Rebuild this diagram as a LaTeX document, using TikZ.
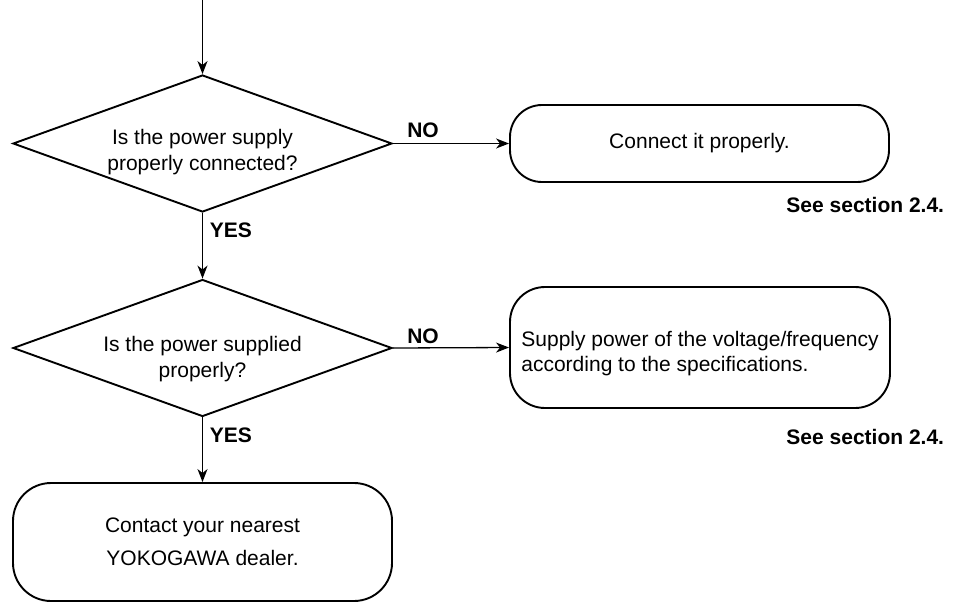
\documentclass[tikz,border=0pt]{standalone}
\usepackage{fontspec}
\setmainfont{Liberation Sans}
\usetikzlibrary{shapes.geometric,arrows.meta}
\begin{document}
\begin{tikzpicture}[x=1pt,y=-1pt,
  line width=1.9pt,
  every node/.style={font=\fontsize{21}{26}\selectfont, inner sep=0pt},
  decision/.style={diamond, draw, aspect=2.77, minimum width=379pt, minimum height=137pt},
  qtext/.style={align=center},
  roundbox/.style={rectangle, draw, rounded corners=#1},
  lbl/.style={font=\fontsize{21}{26}\selectfont\bfseries},
  arr/.style={-{Stealth[length=13pt,width=10pt,inset=4pt]}, line width=1.3pt}
]
\useasboundingbox (0,0) rectangle (960,603);
\coordinate (start) at (202.5,0);
% decision 1
\node[decision] (q1) at (202.5,143.5) {};
\node[qtext] (q1t) at (202.5,152) {Is the power supply\\properly connected?};
\node[roundbox=32pt, minimum width=379pt, minimum height=77pt] (b1) at (699.5,143.5) {Connect it properly.};
\node[lbl] (no1) at (423,130) {NO};
\node[lbl, anchor=west] (yes1) at (209,230) {YES};
\node[lbl, anchor=east] (see1) at (945,205) {See section 2.4.};
% decision 2
\node[decision] (q2) at (202.5,348) {};
\node[qtext] (q2t) at (202.5,359) {Is the power supplied\\properly?};
\node[roundbox=35pt, minimum width=380pt, minimum height=121pt] (b2) at (700,347.5) {};
\node[align=left, font=\fontsize{21}{25}\selectfont] (b2t) at (700,353.5) {Supply power of the voltage/frequency\\according to the specifications.};
\node[lbl] (no2) at (423,336) {NO};
\node[lbl, anchor=west] (yes2) at (209,435) {YES};
\node[lbl, anchor=east] (see2) at (945,437) {See section 2.4.};
% final box
\node[roundbox=38pt, minimum width=379pt, minimum height=118pt, align=center, font=\fontsize{21}{33}\selectfont] (b3) at (202.5,542) {Contact your nearest\\YOKOGAWA dealer.};
% connectors
\draw[arr] (start) -- (q1.north);
\draw[arr] (q1.east) -- (b1.west);
\draw[arr] (q1.south) -- (q2.north);
\draw[arr] (q2.east) -- (b2.west);
\draw[arr] (q2.south) -- (b3.north);
\end{tikzpicture}
\end{document}
